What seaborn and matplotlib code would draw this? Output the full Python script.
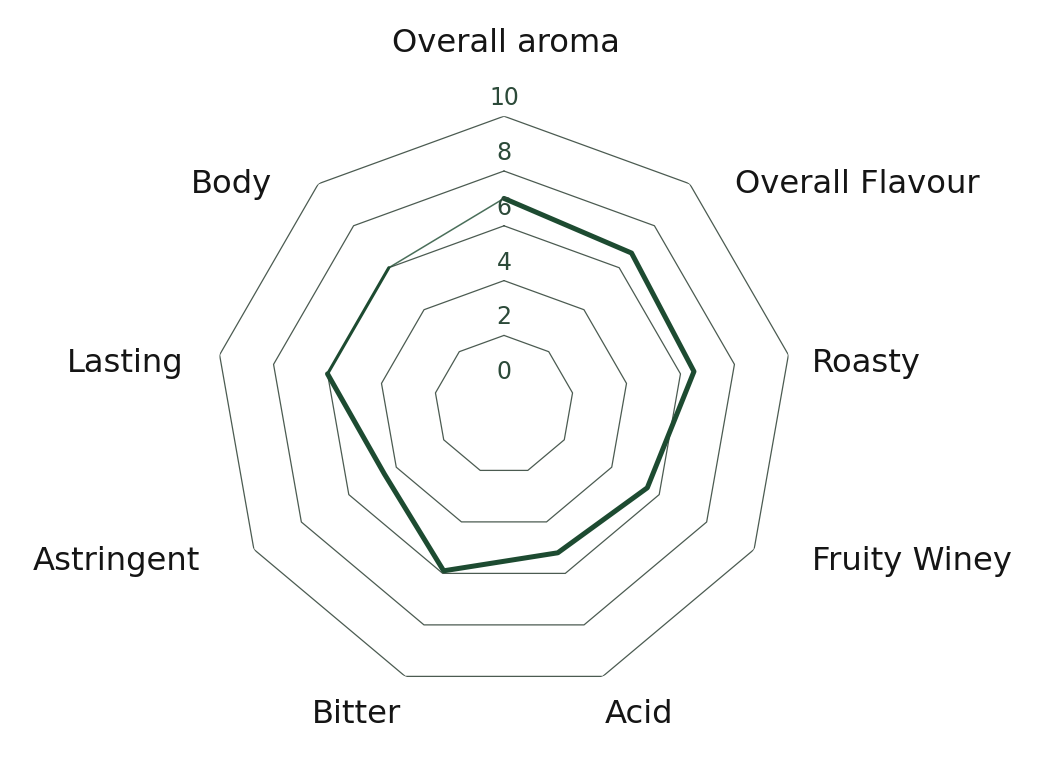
import numpy as np
import matplotlib
matplotlib.use("Agg")
import matplotlib.pyplot as plt
import matplotlib.transforms as mtransforms
import seaborn as sns

categories = ["Overall aroma", "Overall Flavour", "Roasty", "Fruity Winey", "Acid",
              "Bitter", "Astringent", "Lasting", "Body"]
scores = [7.0, 6.7, 6.5, 5.5, 5.2, 5.9, 4.5, 6.0, 6.0]
ring_values = [2, 4, 6, 8, 10]
tick_values = [0, 2, 4, 6, 8, 10]

sns.set_theme(style="white")
plt.rcParams["font.family"] = ["DejaVu Sans"]

W, H, DPI = 1045, 767, 100
fig = plt.figure(figsize=(W / DPI, H / DPI), dpi=DPI)
cx, cy = 504, 405      # centre of the radar, pixels from top-left
R = 288.8              # radius of the outer ring in pixels
ax = fig.add_axes([(cx - R) / W, (H - cy - R) / H, 2 * R / W, 2 * R / H], projection="polar")
ax.set_theta_zero_location("N")
ax.set_theta_direction(-1)

n = len(categories)
angles = np.linspace(0, 2 * np.pi, n, endpoint=False)
closed = np.append(angles, 2 * np.pi)

grid_col = "#4b5b51"
line_col = "#1d4b31"

# polygon rings (straight segments in polar)
for v in ring_values:
    ax.plot(closed, [v] * (n + 1), color=grid_col, lw=0.9, zorder=1)

# score line: heavy from aroma round to Lasting, lighter on the closing part
sns.lineplot(x=angles[:8], y=scores[:8], sort=False, ax=ax, color=line_col,
             lw=3.6, zorder=3)
ax.plot(angles[7:9], scores[7:9], color=line_col, lw=2.2, zorder=3,
        solid_capstyle="round")
ax.plot([angles[8], 2 * np.pi], [scores[8], scores[0]], color=line_col, lw=1.1,
        alpha=0.8, zorder=3)

ax.set_ylim(0, 10)
ax.set_rorigin(-0.54)
ax.axis("off")

# radial value labels, just above each ring on the top axis
lab_tr = mtransforms.offset_copy(ax.transData, fig=fig, y=18, units="dots")
for v in tick_values:
    ax.text(0, v, str(v), transform=lab_tr, ha="center", va="center",
            fontsize=17, color="#2c4a39", zorder=4)

# axis names
name_pos = [(506, 52, "center"), (735, 193, "left"), (812, 372, "left"),
            (812, 570, "left"), (605, 723, "left"), (401, 723, "right"),
            (200, 570, "right"), (184, 372, "right"), (272, 193, "right")]
for name, (px, py, ha) in zip(categories, name_pos):
    fig.text(px / W, 1 - py / H, name, ha=ha, va="baseline", fontsize=23.2,
             color="#151515")

fig.savefig("out.png", dpi=DPI)
